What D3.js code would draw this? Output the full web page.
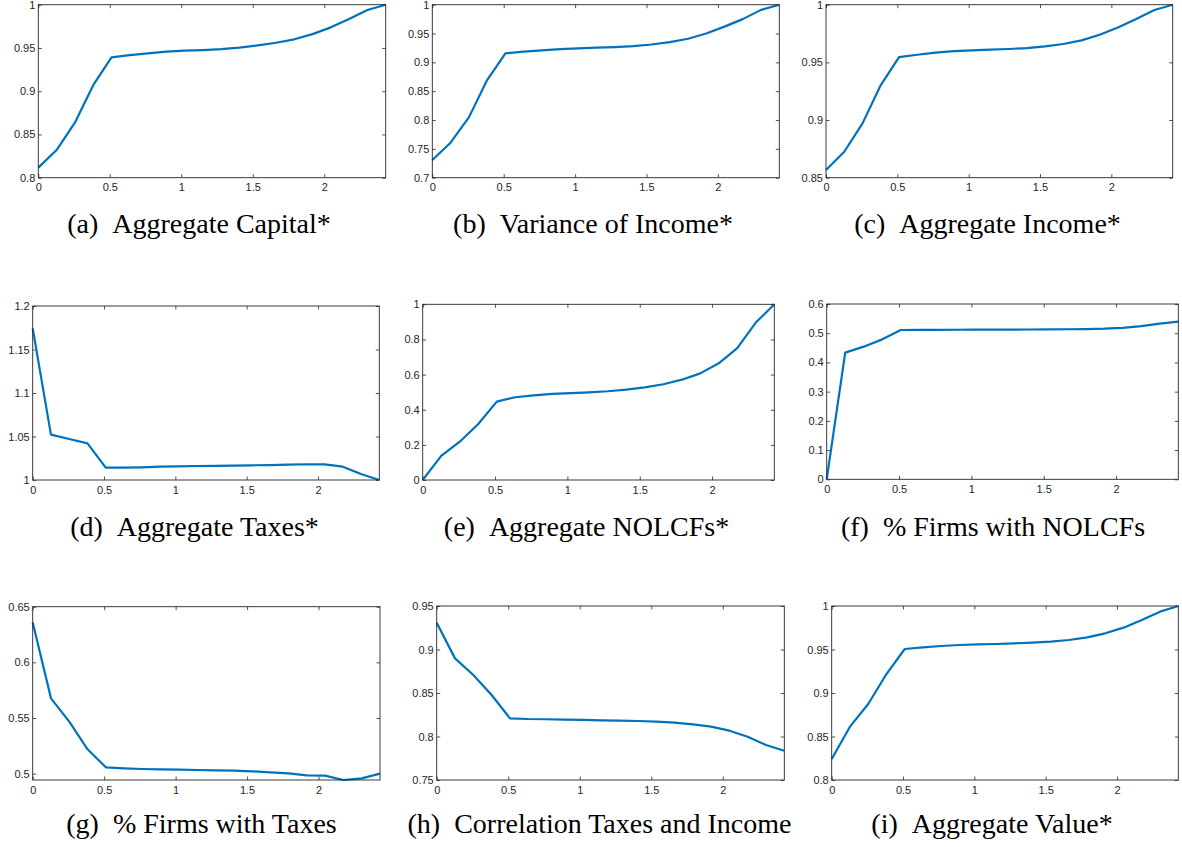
<!DOCTYPE html>
<html>
<head>
<meta charset="utf-8">
<script src="https://cdn.jsdelivr.net/npm/d3@7"></script>
<style>
  html, body { margin: 0; padding: 0; background: #fff; }
  svg { display: block; }
  .tick text { font-family: "Liberation Sans", Arial, Helvetica, sans-serif; font-size: 11px; fill: #262626; }
</style>
</head>
<body>
<svg id="fig" width="1182" height="847"></svg>
<script>
// Shared x grid (20 points)
const xValues = [0, 0.128, 0.256, 0.384, 0.512, 0.639, 0.767, 0.895, 1.023, 1.151,
                 1.279, 1.407, 1.535, 1.663, 1.791, 1.918, 2.046, 2.174, 2.302, 2.43];
const xDomain = [0, 2.43];
const xTicks = [0, 0.5, 1, 1.5, 2];

// Series, one per panel
const aggCapital = [0.8116, 0.832, 0.8636, 0.907, 0.939, 0.9418, 0.9437, 0.9457, 0.9468, 0.9476,
                    0.9487, 0.9503, 0.953, 0.956, 0.960, 0.966, 0.9738, 0.9834, 0.9938, 1.0];
const varIncome  = [0.7306, 0.7607, 0.8046, 0.8694, 0.9156, 0.9185, 0.9208, 0.923, 0.9243, 0.9254,
                    0.9266, 0.928, 0.931, 0.935, 0.941, 0.950, 0.962, 0.975, 0.991, 1.0];
const aggIncome  = [0.8566, 0.8725, 0.8971, 0.9303, 0.9546, 0.9566, 0.9584, 0.9598, 0.9604, 0.9610,
                    0.9616, 0.9624, 0.9639, 0.9659, 0.9691, 0.974, 0.9803, 0.9876, 0.9954, 1.0];
const aggTaxes   = [1.1743, 1.0521, 1.0471, 1.0421, 1.0142, 1.0142, 1.0146, 1.0153, 1.0157, 1.0161,
                    1.0163, 1.0165, 1.0169, 1.0172, 1.0177, 1.0181, 1.018, 1.0153, 1.0069, 1.0];
const aggNOLCF   = [0, 0.137, 0.218, 0.319, 0.446, 0.471, 0.482, 0.490, 0.494, 0.499,
                    0.505, 0.514, 0.527, 0.545, 0.571, 0.607, 0.664, 0.750, 0.896, 1.0];
const pctNOLCF   = [0, 0.4335, 0.454, 0.479, 0.511, 0.5112, 0.5115, 0.5118, 0.512, 0.5122,
                    0.5125, 0.5128, 0.513, 0.5135, 0.5142, 0.5155, 0.5185, 0.5245, 0.533, 0.5395];
const pctTaxes   = [0.6359, 0.5677, 0.5467, 0.5219, 0.5057, 0.5048, 0.5042, 0.5039, 0.5036, 0.5033,
                    0.503, 0.5027, 0.5021, 0.5012, 0.5003, 0.4985, 0.4982, 0.4943, 0.4958, 0.500];
const corrTaxInc = [0.9308, 0.8898, 0.8707, 0.8477, 0.8209, 0.8201, 0.8198, 0.8194, 0.819, 0.8186,
                    0.8182, 0.8178, 0.817, 0.8159, 0.814, 0.8113, 0.8067, 0.7998, 0.7902, 0.7837];
const aggValue   = [0.8241, 0.8613, 0.8874, 0.9218, 0.9506, 0.9525, 0.954, 0.9552, 0.9559, 0.9563,
                    0.9571, 0.9579, 0.959, 0.9609, 0.964, 0.9686, 0.9751, 0.9839, 0.9935, 1.0];

// Y limits and tick labels per panel
const yLimits = [[0.8, 1], [0.7, 1], [0.85, 1], [1, 1.2], [0, 1], [0, 0.6], [0.4943, 0.65], [0.75, 0.95], [0.8, 1]];
const yTicks = [
  [0.8, 0.85, 0.9, 0.95, 1],
  [0.7, 0.75, 0.8, 0.85, 0.9, 0.95, 1],
  [0.85, 0.9, 0.95, 1],
  [1, 1.05, 1.1, 1.15, 1.2],
  [0, 0.2, 0.4, 0.6, 0.8, 1],
  [0, 0.1, 0.2, 0.3, 0.4, 0.5, 0.6],
  [0.5, 0.55, 0.6, 0.65],
  [0.75, 0.8, 0.85, 0.9, 0.95],
  [0.8, 0.85, 0.9, 0.95, 1]
];

// Caption labels
const panelTags = ["(a)", "(b)", "(c)", "(d)", "(e)", "(f)", "(g)", "(h)", "(i)"];
const panelTitles = ["Aggregate Capital*", "Variance of Income*", "Aggregate Income*",
                     "Aggregate Taxes*", "Aggregate NOLCFs*", "% Firms with NOLCFs",
                     "% Firms with Taxes", "Correlation Taxes and Income", "Aggregate Value*"];

const series = [aggCapital, varIncome, aggIncome, aggTaxes, aggNOLCF, pctNOLCF, pctTaxes, corrTaxInc, aggValue];

// Plot boxes (left, top, right, bottom) and caption placement
const boxes = [
  [38.3, 4.7, 385.7, 177.7], [432.3, 4.7, 779.3, 177.7], [826, 4.7, 1172.7, 177.7],
  [32.7, 306, 379.3, 480],   [422.7, 304.3, 774.3, 480], [826.7, 304, 1178.3, 479.3],
  [32.7, 606.7, 380, 780],   [436.7, 606, 784.3, 780],   [831.7, 606, 1178.3, 780]
];
const captionPos = [
  [199, 232.5], [593, 232.5], [987.5, 232.5],
  [194.5, 536], [586.5, 536], [993, 536],
  [201.5, 833], [599.5, 833], [992, 833]
];

const AXIS_COLOR = "#262626";
const LINE_COLOR = "#0072BD";
const TICK_LEN = 3.5;
const SERIF = "'Liberation Serif', 'DejaVu Serif', 'Times New Roman', serif";

const svg = d3.select("#fig");
svg.append("rect").attr("width", 1182).attr("height", 847).attr("fill", "#fff");

series.forEach((vals, i) => {
  const [l, t, r, b] = boxes[i];
  const w = r - l, h = b - t;
  const g = svg.append("g").attr("transform", `translate(${l},${t})`);

  const x = d3.scaleLinear().domain(xDomain).range([0, w]);
  const y = d3.scaleLinear().domain(yLimits[i]).range([h, 0]);
  const fmt = v => String(v);

  // bottom axis with labels, top axis ticks only
  const bx = g.append("g").attr("transform", `translate(0,${h})`)
    .call(d3.axisBottom(x).tickValues(xTicks).tickFormat(fmt).tickSizeInner(-TICK_LEN).tickSizeOuter(0).tickPadding(6));
  const tx = g.append("g")
    .call(d3.axisTop(x).tickValues(xTicks).tickFormat("").tickSizeInner(-TICK_LEN).tickSizeOuter(0));
  // left axis with labels, right axis ticks only
  const ly = g.append("g")
    .call(d3.axisLeft(y).tickValues(yTicks[i]).tickFormat(fmt).tickSizeInner(-TICK_LEN).tickSizeOuter(0).tickPadding(3));
  const ry = g.append("g").attr("transform", `translate(${w},0)`)
    .call(d3.axisRight(y).tickValues(yTicks[i]).tickFormat("").tickSizeInner(-TICK_LEN).tickSizeOuter(0));

  [bx, tx, ly, ry].forEach(a => {
    a.select(".domain").remove();
    a.selectAll(".tick line").attr("stroke", AXIS_COLOR).attr("stroke-width", 0.8);
    a.attr("font-family", null).attr("font-size", null);
  });

  // data line
  const line = d3.line().x((d, k) => x(xValues[k])).y(d => y(d));
  g.append("path").datum(vals)
    .attr("d", line)
    .attr("fill", "none")
    .attr("stroke", LINE_COLOR)
    .attr("stroke-width", 2.2)
    .attr("stroke-linejoin", "round");

  // axes box
  g.append("rect").attr("x", 0).attr("y", 0).attr("width", w).attr("height", h)
    .attr("fill", "none").attr("stroke", AXIS_COLOR).attr("stroke-width", 0.9);

  // caption
  const [cx, cy] = captionPos[i];
  const cap = svg.append("text")
    .attr("x", cx).attr("y", cy).attr("text-anchor", "middle")
    .style("font-family", SERIF).style("font-size", "28px").attr("fill", "#000");
  cap.append("tspan").text(panelTags[i]);
  cap.append("tspan").attr("dx", 14).text(panelTitles[i]);
});
</script>
</body>
</html>
